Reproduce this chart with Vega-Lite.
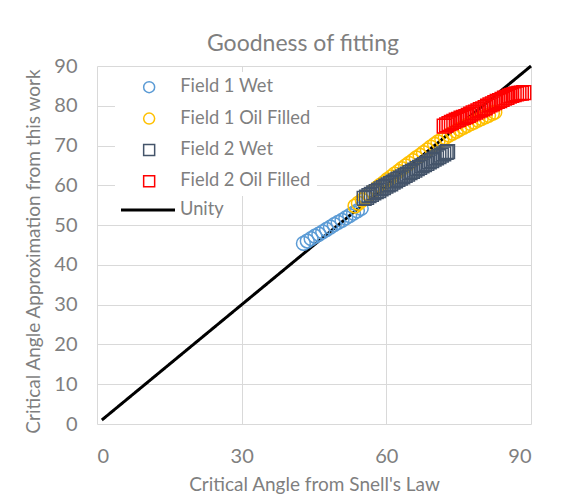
{
  "$schema": "https://vega.github.io/schema/vega-lite/v6.json",
  "width": 434,
  "height": 358,
  "autosize": "none",
  "padding": {"left": 97, "top": 66, "right": 57, "bottom": 71},
  "background": "white",
  "title": {"text": "Goodness of fitting", "font": "Lato", "fontSize": 23, "fontWeight": "normal", "color": "#7f7f7f", "dx": -11, "offset": 0},
  "config": {
    "font": "Lato",
    "view": {"stroke": null},
    "axis": {"domain": false, "ticks": false, "grid": true, "gridColor": "#d9d9d9", "gridWidth": 1, "labelFont": "Lato", "labelFontSize": 20, "labelColor": "#7f7f7f", "labelOverlap": false, "titleFont": "Lato", "titleFontSize": 19, "titleColor": "#7f7f7f", "titleFontWeight": "normal"},
    "legend": {"orient": "none", "padding": 6, "labelFont": "Lato", "labelFontSize": 18.3, "labelColor": "#7f7f7f"}
  },
  "encoding": {
    "x": {"field": "x", "type": "quantitative", "scale": {"domain": [0, 90]}, "axis": {"values": [0, 30, 60, 90], "labelPadding": 22, "titlePadding": 9, "title": "Critical Angle from Snell's Law"}},
    "y": {"field": "y", "type": "quantitative", "scale": {"domain": [0, 90]}, "axis": {"values": [0, 10, 20, 30, 40, 50, 60, 70, 80, 90], "labelPadding": 20, "titlePadding": 10, "titleY": 185, "title": "Critical Angle Approximation from this work"}}
  },
  "layer": [
    {
      "data": {"values": [{"x": 1, "y": 1, "series": "Unity"}, {"x": 90, "y": 90, "series": "Unity"}]},
      "mark": {"type": "line", "strokeWidth": 3, "color": "#000000"},
      "encoding": {
        "strokeDash": {"field": "series", "type": "nominal", "scale": {"domain": ["Unity"], "range": [[1, 0]]}, "legend": {"title": null, "legendX": 18, "legendY": 109.5, "fillColor": "transparent", "symbolType": "stroke", "symbolSize": 2916, "symbolStrokeWidth": 3, "symbolStrokeColor": "#000000", "symbolOffset": -1.5, "labelOffset": 3.5}}
      }
    },
    {
      "data": {"values": [
        {"x": 42.8, "y": 45.4, "series": "Field 1 Wet"},
        {"x": 43.6, "y": 46.0, "series": "Field 1 Wet"},
        {"x": 44.4, "y": 46.6, "series": "Field 1 Wet"},
        {"x": 45.2, "y": 47.2, "series": "Field 1 Wet"},
        {"x": 46.0, "y": 47.7, "series": "Field 1 Wet"},
        {"x": 46.8, "y": 48.3, "series": "Field 1 Wet"},
        {"x": 47.6, "y": 48.9, "series": "Field 1 Wet"},
        {"x": 48.4, "y": 49.5, "series": "Field 1 Wet"},
        {"x": 49.2, "y": 50.1, "series": "Field 1 Wet"},
        {"x": 50.0, "y": 50.7, "series": "Field 1 Wet"},
        {"x": 50.8, "y": 51.2, "series": "Field 1 Wet"},
        {"x": 51.6, "y": 51.8, "series": "Field 1 Wet"},
        {"x": 52.4, "y": 52.4, "series": "Field 1 Wet"},
        {"x": 53.2, "y": 53.0, "series": "Field 1 Wet"},
        {"x": 54.0, "y": 53.6, "series": "Field 1 Wet"},
        {"x": 54.8, "y": 54.2, "series": "Field 1 Wet"},
        {"x": 53.5, "y": 54.8, "series": "Field 1 Oil Filled"},
        {"x": 54.2, "y": 55.5, "series": "Field 1 Oil Filled"},
        {"x": 55.0, "y": 56.3, "series": "Field 1 Oil Filled"},
        {"x": 55.7, "y": 57.0, "series": "Field 1 Oil Filled"},
        {"x": 56.5, "y": 57.8, "series": "Field 1 Oil Filled"},
        {"x": 57.2, "y": 58.5, "series": "Field 1 Oil Filled"},
        {"x": 58.0, "y": 59.3, "series": "Field 1 Oil Filled"},
        {"x": 58.7, "y": 60.0, "series": "Field 1 Oil Filled"},
        {"x": 59.5, "y": 60.7, "series": "Field 1 Oil Filled"},
        {"x": 60.2, "y": 61.4, "series": "Field 1 Oil Filled"},
        {"x": 61.0, "y": 62.1, "series": "Field 1 Oil Filled"},
        {"x": 61.7, "y": 62.8, "series": "Field 1 Oil Filled"},
        {"x": 62.5, "y": 63.5, "series": "Field 1 Oil Filled"},
        {"x": 63.2, "y": 64.2, "series": "Field 1 Oil Filled"},
        {"x": 64.0, "y": 64.9, "series": "Field 1 Oil Filled"},
        {"x": 64.7, "y": 65.5, "series": "Field 1 Oil Filled"},
        {"x": 65.5, "y": 66.2, "series": "Field 1 Oil Filled"},
        {"x": 66.2, "y": 66.9, "series": "Field 1 Oil Filled"},
        {"x": 67.0, "y": 67.5, "series": "Field 1 Oil Filled"},
        {"x": 67.7, "y": 68.2, "series": "Field 1 Oil Filled"},
        {"x": 68.5, "y": 68.9, "series": "Field 1 Oil Filled"},
        {"x": 69.2, "y": 69.6, "series": "Field 1 Oil Filled"},
        {"x": 70.0, "y": 70.3, "series": "Field 1 Oil Filled"},
        {"x": 70.7, "y": 70.9, "series": "Field 1 Oil Filled"},
        {"x": 71.5, "y": 71.5, "series": "Field 1 Oil Filled"},
        {"x": 72.2, "y": 72.0, "series": "Field 1 Oil Filled"},
        {"x": 73.0, "y": 72.6, "series": "Field 1 Oil Filled"},
        {"x": 73.7, "y": 73.1, "series": "Field 1 Oil Filled"},
        {"x": 74.5, "y": 73.6, "series": "Field 1 Oil Filled"},
        {"x": 75.2, "y": 74.1, "series": "Field 1 Oil Filled"},
        {"x": 76.0, "y": 74.6, "series": "Field 1 Oil Filled"},
        {"x": 76.7, "y": 75.0, "series": "Field 1 Oil Filled"},
        {"x": 77.5, "y": 75.5, "series": "Field 1 Oil Filled"},
        {"x": 78.2, "y": 75.9, "series": "Field 1 Oil Filled"},
        {"x": 79.0, "y": 76.4, "series": "Field 1 Oil Filled"},
        {"x": 79.7, "y": 76.8, "series": "Field 1 Oil Filled"},
        {"x": 80.5, "y": 77.2, "series": "Field 1 Oil Filled"},
        {"x": 81.2, "y": 77.6, "series": "Field 1 Oil Filled"},
        {"x": 82.0, "y": 78.1, "series": "Field 1 Oil Filled"},
        {"x": 82.5, "y": 78.4, "series": "Field 1 Oil Filled"},
        {"x": 55.4, "y": 56.7, "series": "Field 2 Wet"},
        {"x": 55.9, "y": 57.0, "series": "Field 2 Wet"},
        {"x": 56.4, "y": 57.4, "series": "Field 2 Wet"},
        {"x": 56.9, "y": 57.7, "series": "Field 2 Wet"},
        {"x": 57.4, "y": 58.1, "series": "Field 2 Wet"},
        {"x": 57.9, "y": 58.4, "series": "Field 2 Wet"},
        {"x": 58.4, "y": 58.7, "series": "Field 2 Wet"},
        {"x": 58.9, "y": 59.1, "series": "Field 2 Wet"},
        {"x": 59.4, "y": 59.4, "series": "Field 2 Wet"},
        {"x": 59.9, "y": 59.8, "series": "Field 2 Wet"},
        {"x": 60.4, "y": 60.1, "series": "Field 2 Wet"},
        {"x": 60.9, "y": 60.4, "series": "Field 2 Wet"},
        {"x": 61.4, "y": 60.8, "series": "Field 2 Wet"},
        {"x": 61.9, "y": 61.1, "series": "Field 2 Wet"},
        {"x": 62.4, "y": 61.5, "series": "Field 2 Wet"},
        {"x": 62.9, "y": 61.8, "series": "Field 2 Wet"},
        {"x": 63.4, "y": 62.1, "series": "Field 2 Wet"},
        {"x": 63.9, "y": 62.5, "series": "Field 2 Wet"},
        {"x": 64.4, "y": 62.8, "series": "Field 2 Wet"},
        {"x": 64.9, "y": 63.2, "series": "Field 2 Wet"},
        {"x": 65.4, "y": 63.5, "series": "Field 2 Wet"},
        {"x": 65.9, "y": 63.8, "series": "Field 2 Wet"},
        {"x": 66.4, "y": 64.2, "series": "Field 2 Wet"},
        {"x": 66.9, "y": 64.5, "series": "Field 2 Wet"},
        {"x": 67.4, "y": 64.9, "series": "Field 2 Wet"},
        {"x": 67.9, "y": 65.2, "series": "Field 2 Wet"},
        {"x": 68.4, "y": 65.5, "series": "Field 2 Wet"},
        {"x": 68.9, "y": 65.9, "series": "Field 2 Wet"},
        {"x": 69.4, "y": 66.2, "series": "Field 2 Wet"},
        {"x": 69.9, "y": 66.6, "series": "Field 2 Wet"},
        {"x": 70.4, "y": 66.9, "series": "Field 2 Wet"},
        {"x": 70.9, "y": 67.2, "series": "Field 2 Wet"},
        {"x": 71.4, "y": 67.6, "series": "Field 2 Wet"},
        {"x": 71.9, "y": 67.9, "series": "Field 2 Wet"},
        {"x": 72.4, "y": 68.3, "series": "Field 2 Wet"},
        {"x": 72.7, "y": 68.5, "series": "Field 2 Wet"},
        {"x": 72.0, "y": 74.9, "series": "Field 2 Oil Filled"},
        {"x": 72.5, "y": 75.2, "series": "Field 2 Oil Filled"},
        {"x": 73.0, "y": 75.5, "series": "Field 2 Oil Filled"},
        {"x": 73.5, "y": 75.8, "series": "Field 2 Oil Filled"},
        {"x": 74.0, "y": 76.1, "series": "Field 2 Oil Filled"},
        {"x": 74.5, "y": 76.4, "series": "Field 2 Oil Filled"},
        {"x": 75.0, "y": 76.6, "series": "Field 2 Oil Filled"},
        {"x": 75.5, "y": 76.9, "series": "Field 2 Oil Filled"},
        {"x": 76.0, "y": 77.1, "series": "Field 2 Oil Filled"},
        {"x": 76.5, "y": 77.3, "series": "Field 2 Oil Filled"},
        {"x": 77.0, "y": 77.6, "series": "Field 2 Oil Filled"},
        {"x": 77.5, "y": 77.9, "series": "Field 2 Oil Filled"},
        {"x": 78.0, "y": 78.2, "series": "Field 2 Oil Filled"},
        {"x": 78.5, "y": 78.4, "series": "Field 2 Oil Filled"},
        {"x": 79.0, "y": 78.7, "series": "Field 2 Oil Filled"},
        {"x": 79.5, "y": 79.0, "series": "Field 2 Oil Filled"},
        {"x": 80.0, "y": 79.2, "series": "Field 2 Oil Filled"},
        {"x": 80.5, "y": 79.5, "series": "Field 2 Oil Filled"},
        {"x": 81.0, "y": 79.9, "series": "Field 2 Oil Filled"},
        {"x": 81.5, "y": 80.2, "series": "Field 2 Oil Filled"},
        {"x": 82.0, "y": 80.5, "series": "Field 2 Oil Filled"},
        {"x": 82.5, "y": 80.8, "series": "Field 2 Oil Filled"},
        {"x": 83.0, "y": 81.1, "series": "Field 2 Oil Filled"},
        {"x": 83.5, "y": 81.3, "series": "Field 2 Oil Filled"},
        {"x": 84.0, "y": 81.6, "series": "Field 2 Oil Filled"},
        {"x": 84.5, "y": 81.9, "series": "Field 2 Oil Filled"},
        {"x": 85.0, "y": 82.1, "series": "Field 2 Oil Filled"},
        {"x": 85.5, "y": 82.4, "series": "Field 2 Oil Filled"},
        {"x": 86.0, "y": 82.6, "series": "Field 2 Oil Filled"},
        {"x": 86.5, "y": 82.8, "series": "Field 2 Oil Filled"},
        {"x": 87.0, "y": 83.0, "series": "Field 2 Oil Filled"},
        {"x": 87.5, "y": 83.1, "series": "Field 2 Oil Filled"},
        {"x": 88.0, "y": 83.2, "series": "Field 2 Oil Filled"},
        {"x": 88.5, "y": 83.3, "series": "Field 2 Oil Filled"}
      ]},
      "mark": {"type": "point", "filled": false, "strokeWidth": 1.5, "opacity": 1, "size": 190},
      "encoding": {
        "color": {"field": "series", "type": "nominal", "scale": {"domain": ["Field 1 Wet", "Field 1 Oil Filled", "Field 2 Wet", "Field 2 Oil Filled"], "range": ["#5b9bd5", "#ffc000", "#44546a", "#ff0000"]}, "legend": {"title": null, "legendX": 18, "legendY": 6, "fillColor": "white", "symbolSize": 121, "symbolStrokeWidth": 1.5, "symbolOffset": 19, "labelOffset": 22, "rowPadding": 12.4}},
        "shape": {"field": "series", "type": "nominal", "scale": {"domain": ["Field 1 Wet", "Field 1 Oil Filled", "Field 2 Wet", "Field 2 Oil Filled"], "range": ["circle", "circle", "square", "square"]}, "legend": {"title": null, "legendX": 18, "legendY": 6, "fillColor": "white", "symbolSize": 121, "symbolStrokeWidth": 1.5, "symbolOffset": 19, "labelOffset": 22, "rowPadding": 12.4}}
      }
    }
  ]
}
